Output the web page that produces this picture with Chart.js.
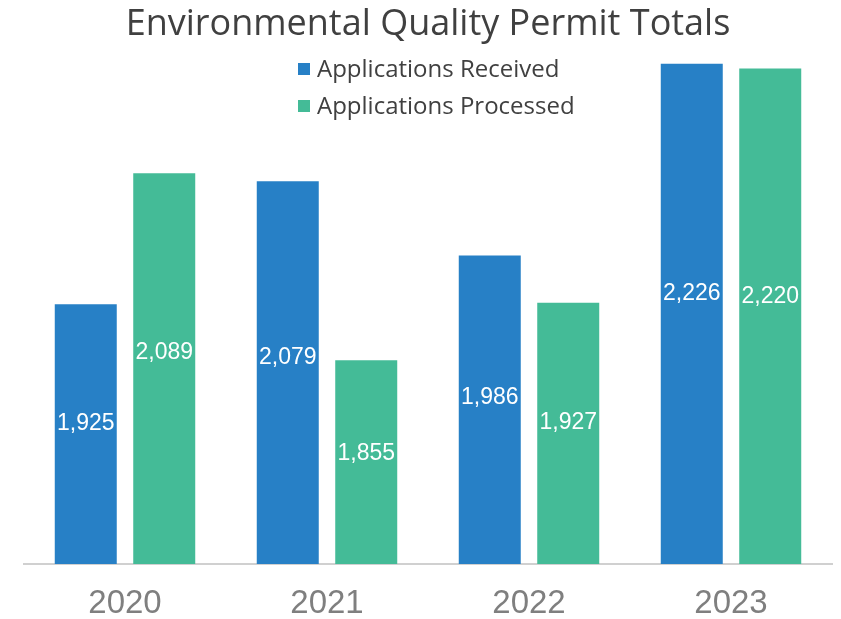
<!DOCTYPE html>
<html>
<head>
<meta charset="utf-8">
<script src="https://cdn.jsdelivr.net/npm/chart.js@4.4.1/dist/chart.umd.min.js"></script>
<style>
  html, body { margin: 0; padding: 0; background: #ffffff; }
  #wrap { width: 841px; height: 619px; position: relative; }
</style>
</head>
<body>
<div id="wrap"><canvas id="c" width="841" height="619"></canvas></div>
<script>
const years = ['2020', '2021', '2022', '2023'];
const received = [1925, 2079, 1986, 2226];
const processed = [2089, 1855, 1927, 2220];
const seriesNames = ['Applications Received', 'Applications Processed'];
const chartTitle = 'Environmental Quality Permit Totals';

const blue = '#2780C6';
const green = '#44BB97';

function fmt(v) {
  return String(v).replace(/\B(?=(\d{3})+(?!\d))/g, ',');
}

const barLabels = {
  id: 'barLabels',
  afterDraw(chart) {
    const ctx = chart.ctx;
    const yScale = chart.scales.y;
    const basePx = yScale.getPixelForValue(yScale.min);
    ctx.save();
    ctx.fillStyle = '#ffffff';
    ctx.font = '23px "Liberation Sans", Arial, sans-serif';
    ctx.textAlign = 'center';
    ctx.textBaseline = 'middle';
    chart.data.datasets.forEach((ds, i) => {
      const meta = chart.getDatasetMeta(i);
      meta.data.forEach((bar, j) => {
        const top = yScale.getPixelForValue(ds.data[j]);
        const y = top + (basePx - top) * 0.46;
        ctx.fillText(fmt(ds.data[j]), bar.x, y);
      });
    });
    ctx.restore();
  }
};

const stackedLegend = {
  id: 'stackedLegend',
  afterDraw(chart) {
    const ctx = chart.ctx;
    ctx.save();
    ctx.font = '24px "Open Sans", "Liberation Sans", sans-serif';
    ctx.textBaseline = 'middle';
    ctx.textAlign = 'left';
    const left = 298, top = 69, rowGap = 37, box = 12;
    chart.data.datasets.forEach((ds, i) => {
      const cy = top + i * rowGap;
      ctx.fillStyle = ds.backgroundColor;
      ctx.fillRect(left, cy - box / 2, box, box);
      ctx.fillStyle = '#404040';
      ctx.fillText(ds.label, left + 19, cy + 1);
    });
    ctx.restore();
  }
};

new Chart(document.getElementById('c'), {
  type: 'bar',
  data: {
    labels: years,
    datasets: [
      { label: seriesNames[0], data: received, backgroundColor: blue, categoryPercentage: 0.777, barPercentage: 0.79 },
      { label: seriesNames[1], data: processed, backgroundColor: green, categoryPercentage: 0.777, barPercentage: 0.79 }
    ]
  },
  options: {
    responsive: false,
    animation: false,
    layout: { padding: { left: 24, right: 9, top: 0, bottom: 0 } },
    plugins: {
      legend: { display: false },
      tooltip: { enabled: false },
      title: {
        display: true,
        text: chartTitle,
        color: '#404040',
        font: { family: '"Open Sans", "Liberation Sans", sans-serif', size: 36, weight: 'normal', lineHeight: 1.1 },
        padding: { top: 5, bottom: 0 }
      }
    },
    scales: {
      x: {
        grid: { display: false, drawTicks: false },
        border: { display: true, color: '#d0d0d0', width: 2 },
        ticks: {
          color: '#7f7f7f',
          padding: 20,
          font: { family: '"Liberation Sans", Arial, sans-serif', size: 33, lineHeight: 1.2 }
        },
        afterFit(scale) { scale.height = 55; }
      },
      y: {
        display: false,
        min: 1600,
        max: 2250
      }
    }
  },
  plugins: [barLabels, stackedLegend]
});
</script>
</body>
</html>
